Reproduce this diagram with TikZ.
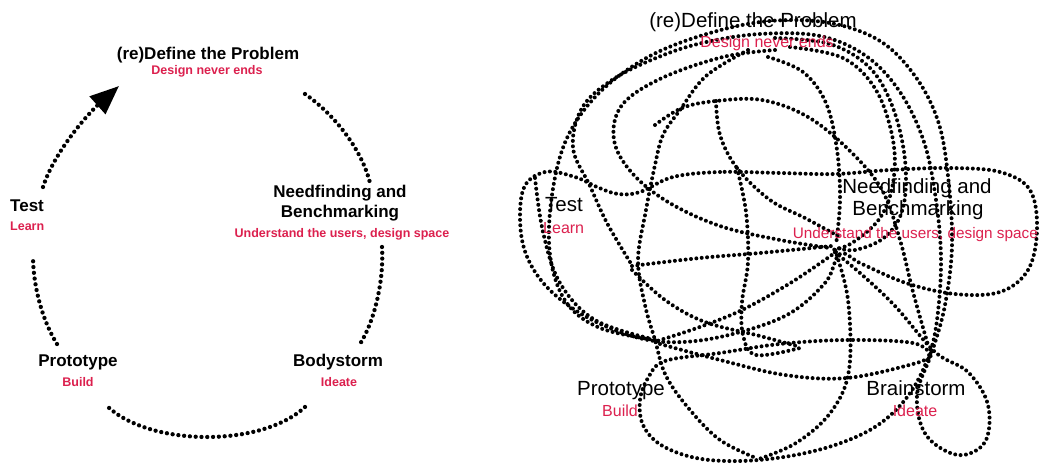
\documentclass[tikz,border=0pt]{standalone}
\usepackage{fontspec}
\setmainfont{Liberation Sans}
\usetikzlibrary{arrows.meta}
\definecolor{stagered}{RGB}{220,32,78}
\begin{document}
\begin{tikzpicture}[x=1pt,y=-1pt,
  dotline/.style={line width=4.3pt, line cap=round, dash pattern=on 0pt off 5.8pt},
  rdot/.style={line width=4pt, line cap=round, dash pattern=on 0pt off 5.4pt},
  ltitle/.style={font=\bfseries\fontsize{17}{20}\selectfont, inner sep=0pt},
  lsub/.style={font=\bfseries\fontsize{12.5}{15}\selectfont, text=stagered, inner sep=0pt},
  rtitle/.style={font=\fontsize{20.5}{24}\selectfont, inner sep=0pt},
  rsub/.style={font=\fontsize{16}{18}\selectfont, text=stagered, inner sep=0pt}]
\useasboundingbox (0,0) rectangle (1040,468);
\fill[white] (0,0) rectangle (1040,468);

% ---------- left: clean cycle ----------
\node[ltitle, anchor=base] (ldef) at (208,60) {(re)Define the Problem};
\node[lsub, anchor=base] (ldefs) at (207,75) {Design never ends};
\node[ltitle, anchor=base west] (ltest) at (10,211) {Test};
\node[lsub, anchor=base west] (ltests) at (10,230) {Learn};
\node[ltitle, anchor=base] (lneed) at (340,197) {Needfinding and};
\node[ltitle, anchor=base] (lbench) at (340,217) {Benchmarking};
\node[lsub, anchor=base] (lneeds) at (342,237) {Understand the users, design space};
\node[ltitle, anchor=base] (lproto) at (78,366) {Prototype};
\node[lsub, anchor=base] (lprotos) at (78,386) {Build};
\node[ltitle, anchor=base] (lbody) at (338,366) {Bodystorm};
\node[lsub, anchor=base] (lbodys) at (339,386) {Ideate};

\coordinate (a1) at (43,187);  \coordinate (a2) at (119,86);
\coordinate (b1) at (305,94);  \coordinate (b2) at (370,183);
\coordinate (c1) at (382,247); \coordinate (c2) at (360,344);
\coordinate (d1) at (305,407); \coordinate (d2) at (108,407);
\coordinate (e1) at (57,344);  \coordinate (e2) at (33,256);

\draw[dotline, -{Triangle[length=29pt,width=23pt]}] (a1) .. controls (55,150) and (90,112) .. (a2);
\draw[dotline] (b1) .. controls (335,115) and (362,150) .. (b2);
\draw[dotline] (c1) .. controls (384,280) and (375,320) .. (c2);
\draw[dotline] (d1) .. controls (262,447) and (152,447) .. (d2);
\draw[dotline] (e1) .. controls (42,320) and (33,285) .. (e2);

% ---------- right: tangled scribble ----------
\draw[rdot] plot[smooth, tension=0.6] coordinates {(655,340) (600,328) (566,302) (550,255) (552,195) (567,138) (600,92) (650,56) (710,33) (770,21) (830,23) (880,41) (915,76) (938,121) (948,176) (952,245) (945,305) (932,352) (917,395) (926,435) (958,455) (985,442) (988,405) (968,372) (935,352) (895,306) (860,273) (832,250)};
\draw[rdot] plot[smooth, tension=0.6] coordinates {(630,262) (607,223) (590,186) (573,148) (582,108) (612,80) (656,58) (702,43) (760,34) (820,36) (866,56) (900,92) (924,142) (936,200) (941,260) (937,320) (928,358) (908,396) (878,425) (838,444) (790,456) (740,461) (696,458) (661,445) (643,425) (640,400) (648,378) (665,361) (720,353) (780,344) (847,340) (913,343) (932,356)};
\draw[rdot] plot[smooth, tension=0.6] coordinates {(775,38) (830,44) (870,68) (893,108) (905,160) (903,208) (885,237) (855,250) (835,247)};
\draw[rdot] plot[smooth, tension=0.6] coordinates {(790,47) (843,58) (876,90) (893,140) (893,183) (880,218) (852,243) (832,250)};
\draw[rdot] plot[smooth, tension=0.6] coordinates {(768,57) (803,72) (826,103) (837,150) (840,200) (836,245)};
\draw[rdot] plot[smooth, tension=0.6] coordinates {(775,50) (723,57) (662,78) (622,105) (614,140) (632,173) (668,202) (720,226) (780,240) (830,248)};
\draw[rdot] plot[smooth, tension=0.6] coordinates {(748,50) (706,76) (680,110) (663,135) (655,165) (646,210) (638,260) (645,305) (655,340) (666,376) (690,410) (720,440) (756,458)};
\draw[rdot] plot[smooth, tension=0.6] coordinates {(655,125) (682,108) (716,101) (762,100) (808,117) (850,151) (882,190) (900,240) (913,292) (928,345)};
\draw[rdot] plot[smooth, tension=0.6] coordinates {(716,101) (720,135) (737,168) (770,200) (805,218) (838,236)};
\draw[rdot] plot[smooth, tension=0.6] coordinates {(737,168) (746,212) (748,262) (742,302) (743,335) (756,355) (800,348)};
\draw[rdot] plot[smooth cycle, tension=0.6] coordinates {(780,173) (720,172) (673,177) (640,192) (618,194) (597,187) (575,177) (545,172) (523,190) (522,240) (540,279) (575,310) (620,332) (665,342) (720,337) (785,316) (825,283) (840,254) (862,264) (906,283) (955,294) (1000,292) (1028,270) (1037,230) (1030,190) (1000,172) (950,168) (890,170) (835,174)};
\draw[rdot] plot[smooth, tension=0.6] coordinates {(835,250) (848,300) (849,370) (831,412) (796,443) (756,460)};
\draw[rdot] plot[smooth, tension=0.6] coordinates {(632,266) (700,258) (760,253) (832,246)};
\draw[rdot] plot[smooth, tension=0.6] coordinates {(632,270) (665,300) (705,322) (760,336) (800,347)};
\draw[rdot] plot[smooth, tension=0.6] coordinates {(660,344) (720,360) (785,375) (847,378) (913,364) (932,356)};
\draw[rdot] plot[smooth, tension=0.6] coordinates {(836,252) (792,282) (742,310) (697,328) (657,341)};
\draw[rdot] plot[smooth, tension=0.6] coordinates {(535,178) (543,232) (560,283) (595,320) (652,339)};

\node[rtitle, anchor=base] (rdef) at (753,28) {(re)Define the Problem};
\node[rsub, anchor=base] (rdefs) at (767,48) {Design never ends};
\node[rtitle, anchor=base west] (rtest) at (545,211) {Test};
\node[rsub, anchor=base west] (rtests) at (543,233) {Learn};
\node[rtitle, anchor=base] (rneed) at (917,193) {Needfinding and};
\node[rtitle, anchor=base] (rbench) at (918,215) {Benchmarking};
\node[rsub, anchor=base east, font=\fontsize{15.3}{18}\selectfont] (rneeds) at (1038,238) {Understand the users, design space};
\node[rtitle, anchor=base] (rproto) at (621,395) {Prototype};
\node[rsub, anchor=base] (rprotos) at (620,416) {Build};
\node[rtitle, anchor=base] (rbrain) at (916,395) {Brainstorm};
\node[rsub, anchor=base] (rbrains) at (915,416) {Ideate};
\end{tikzpicture}
\end{document}
